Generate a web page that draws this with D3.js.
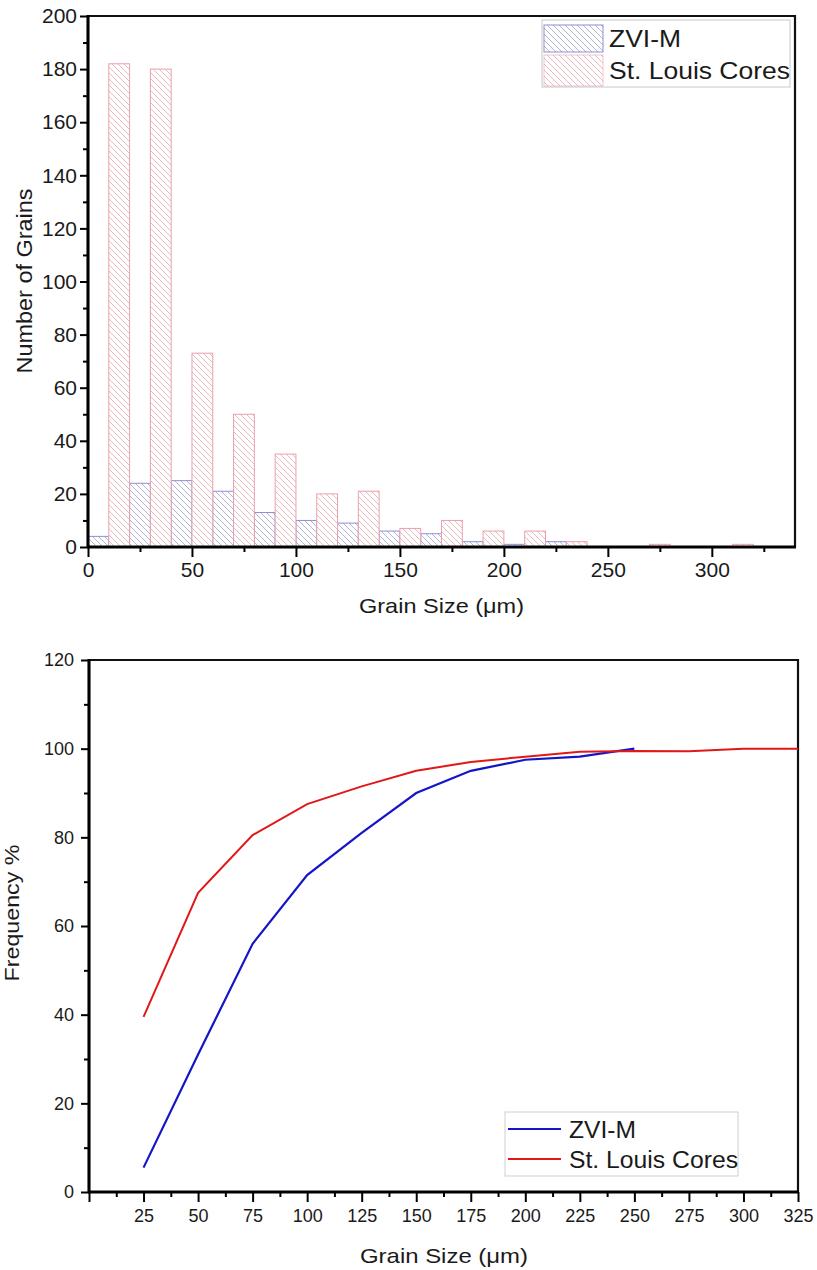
<!DOCTYPE html>
<html>
<head>
<meta charset="utf-8">
<script src="https://cdn.jsdelivr.net/npm/d3@7"></script>
<style>
  html, body { margin: 0; padding: 0; background: #fff; }
  svg { display: block; font-family: "Liberation Sans", Arial, sans-serif; }
</style>
</head>
<body>
<svg id="chart" width="817" height="1270"></svg>
<script>
// ---------- Data: histogram (Number of Grains) ----------
const seriesNames = ["ZVI-M", "St. Louis Cores"];
const binWidth = 10;
const zviBinStarts = [0, 20, 40, 60, 80, 100, 120, 140, 160, 180, 200, 220, 240, 260, 280, 300];
const zviCounts    = [4, 24, 25, 21, 13, 10, 9, 6, 5, 2, 1, 2, 0, 0, 0, 0];
const stlBinStarts = [10, 30, 50, 70, 90, 110, 130, 150, 170, 190, 210, 230, 250, 270, 290, 310];
const stlCounts    = [182, 180, 73, 50, 35, 20, 21, 7, 10, 6, 6, 2, 0, 1, 0, 1];

const histXTicks = [0, 50, 100, 150, 200, 250, 300];
const histXMinor = [25, 75, 125, 175, 225, 275, 325];
const histYTicks = [0, 20, 40, 60, 80, 100, 120, 140, 160, 180, 200];
const histYMinor = [10, 30, 50, 70, 90, 110, 130, 150, 170, 190];

// ---------- Data: cumulative frequency ----------
const cumGrainSize = [25, 50, 75, 100, 125, 150, 175, 200, 225, 250, 275, 300, 325];
const zviCum = [5.5, 31, 56, 71.5, 81, 90, 95, 97.5, 98.2, 100];
const stlCum = [39.5, 67.5, 80.5, 87.5, 91.5, 95, 97, 98.2, 99.3, 99.5, 99.4, 100, 100];

const cumXTicks = [0, 25, 50, 75, 100, 125, 150, 175, 200, 225, 250, 275, 300, 325];
const cumXMinor = [12.5, 37.5, 62.5, 87.5, 112.5, 137.5, 162.5, 187.5, 212.5, 237.5, 262.5, 287.5, 312.5];
const cumYTicks = [0, 20, 40, 60, 80, 100, 120];
const cumYMinor = [10, 30, 50, 70, 90, 110];

const svg = d3.select("#chart");
const defs = svg.append("defs");

function hatch(id, color) {
  const p = defs.append("pattern")
    .attr("id", id).attr("patternUnits", "userSpaceOnUse")
    .attr("width", 6).attr("height", 6);
  p.append("rect").attr("width", 6).attr("height", 6).attr("fill", "#fff");
  p.append("path")
    .attr("d", "M0,0 L6,6 M-1.5,4.5 L1.5,7.5 M4.5,-1.5 L7.5,1.5")
    .attr("stroke", color).attr("stroke-width", 0.8).attr("fill", "none");
}
hatch("hatchBlue", "#9ea3c8");
hatch("hatchRed", "#e3aab0");
const blueEdge = "#8c8fd6";
const redEdge = "#ec9fab";

function drawAxes(x, y, cfg) {
  const [x0, x1] = x.range();
  const [y0, y1] = y.range();
  // minor ticks
  svg.append("g").attr("transform", `translate(0,${y0})`)
    .call(d3.axisBottom(x).tickValues(cfg.xMinor).tickSize(5).tickFormat(""))
    .call(g => g.select(".domain").remove())
    .call(g => g.selectAll("line").attr("stroke", "#000").attr("stroke-width", 2));
  svg.append("g").attr("transform", `translate(${x0},0)`)
    .call(d3.axisLeft(y).tickValues(cfg.yMinor).tickSize(5).tickFormat(""))
    .call(g => g.select(".domain").remove())
    .call(g => g.selectAll("line").attr("stroke", "#000").attr("stroke-width", 2));
  // major x
  const gx = svg.append("g").attr("transform", `translate(0,${y0})`)
    .call(d3.axisBottom(x).tickValues(cfg.xTicks).tickSize(10).tickPadding(cfg.xPad)
      .tickFormat(d => (cfg.hideZeroX && d === 0) ? "" : d));
  gx.select(".domain").remove();
  gx.selectAll("line").attr("stroke", "#000").attr("stroke-width", 2);
  gx.selectAll("text").attr("font-size", cfg.xFont).attr("fill", "#1a1a1a")
    .attr("font-family", "Liberation Sans, Arial, sans-serif");
  // major y
  const gy = svg.append("g").attr("transform", `translate(${x0},0)`)
    .call(d3.axisLeft(y).tickValues(cfg.yTicks).tickSize(8).tickPadding(cfg.yPad));
  gy.select(".domain").remove();
  gy.selectAll("line").attr("stroke", "#000").attr("stroke-width", 2);
  gy.selectAll("text").attr("font-size", cfg.yFont).attr("fill", "#1a1a1a")
    .attr("font-family", "Liberation Sans, Arial, sans-serif");
  // frame
  svg.append("path")
    .attr("d", `M${x0},${y0} L${x0},${y1} L${x1},${y1} L${x1},${y0}`)
    .attr("fill", "none").attr("stroke", "#111").attr("stroke-width", 2.2);
  svg.append("line").attr("x1", x0 - 1).attr("x2", x1 + 1).attr("y1", y0).attr("y2", y0)
    .attr("stroke", "#000").attr("stroke-width", 3);
  svg.append("line").attr("x1", x0).attr("x2", x0).attr("y1", y1 - 1).attr("y2", y0 + 1)
    .attr("stroke", "#000").attr("stroke-width", 3);
}

function label(txt, x, y, size, len, rotate) {
  const t = svg.append("text").text(txt)
    .attr("font-size", size).attr("fill", "#1a1a1a")
    .attr("text-anchor", rotate ? "middle" : "start");
  if (len) t.attr("textLength", len).attr("lengthAdjust", "spacingAndGlyphs");
  if (rotate) t.attr("transform", `translate(${x},${y}) rotate(-90)`);
  else t.attr("x", x).attr("y", y);
  return t;
}

// ================= Top chart: histogram =================
{
  const x = d3.scaleLinear().domain([0, 340]).range([88, 795]);
  const y = d3.scaleLinear().domain([0, 200]).range([547, 16]);

  const bars = [
    { starts: zviBinStarts, counts: zviCounts, fill: "url(#hatchBlue)", edge: blueEdge },
    { starts: stlBinStarts, counts: stlCounts, fill: "url(#hatchRed)", edge: redEdge }
  ];
  bars.forEach(s => {
    const data = s.starts.map((st, i) => ({ st, v: s.counts[i] })).filter(d => d.v > 0);
    svg.append("g").selectAll("rect").data(data).join("rect")
      .attr("x", d => x(d.st))
      .attr("width", d => x(d.st + binWidth) - x(d.st))
      .attr("y", d => y(d.v))
      .attr("height", d => y(0) - y(d.v))
      .attr("fill", s.fill).attr("stroke", s.edge).attr("stroke-width", 1);
  });

  drawAxes(x, y, {
    xTicks: histXTicks, xMinor: histXMinor, yTicks: histYTicks, yMinor: histYMinor,
    xPad: 5, yPad: 3, xFont: 21, yFont: 21, hideZeroX: false
  });

  // legend
  svg.append("rect").attr("x", 542).attr("y", 20).attr("width", 248).attr("height", 67)
    .attr("fill", "#fff").attr("stroke", "#c8c8c8").attr("stroke-width", 1);
  svg.append("rect").attr("x", 544).attr("y", 25).attr("width", 59).attr("height", 27)
    .attr("fill", "url(#hatchBlue)").attr("stroke", blueEdge).attr("stroke-width", 1);
  svg.append("rect").attr("x", 544).attr("y", 55).attr("width", 59).attr("height", 31)
    .attr("fill", "url(#hatchRed)").attr("stroke", redEdge).attr("stroke-width", 0.6);
  label(seriesNames[0], 609, 47, 24, 72);
  label(seriesNames[1], 609, 79, 24, 181);

  label("Grain Size (\u03BCm)", 359, 613, 21, 165);
  label("Number of Grains", 32, 281, 22, 185, true);
}

// ================= Bottom chart: cumulative =================
{
  const x = d3.scaleLinear().domain([0, 325]).range([89, 798]);
  const y = d3.scaleLinear().domain([0, 120]).range([1192, 660]);

  drawAxes(x, y, {
    xTicks: cumXTicks, xMinor: cumXMinor, yTicks: cumYTicks, yMinor: cumYMinor,
    xPad: 7, yPad: 7, xFont: 18, yFont: 18, hideZeroX: true
  });

  const line = d3.line().x(d => x(d[0])).y(d => y(d[1]));
  svg.append("path")
    .datum(zviCum.map((v, i) => [cumGrainSize[i], v]))
    .attr("d", line).attr("fill", "none").attr("stroke", "#1515c8").attr("stroke-width", 2.2);
  svg.append("path")
    .datum(stlCum.map((v, i) => [cumGrainSize[i], v]))
    .attr("d", line).attr("fill", "none").attr("stroke", "#e01818").attr("stroke-width", 2);

  // legend
  svg.append("rect").attr("x", 505).attr("y", 1112).attr("width", 233).attr("height", 64)
    .attr("fill", "#fff").attr("stroke", "#cfcfcf").attr("stroke-width", 1);
  svg.append("line").attr("x1", 508).attr("x2", 561).attr("y1", 1129).attr("y2", 1129)
    .attr("stroke", "#1515c8").attr("stroke-width", 2.2);
  svg.append("line").attr("x1", 508).attr("x2", 561).attr("y1", 1159).attr("y2", 1159)
    .attr("stroke", "#e01818").attr("stroke-width", 2);
  label(seriesNames[0], 569, 1138, 23, 67);
  label(seriesNames[1], 569, 1168, 23, 169);

  label("Grain Size (\u03BCm)", 360, 1263, 21, 168);
  label("Frequency %", 19, 913, 21, 137, true);
}
</script>
</body>
</html>
